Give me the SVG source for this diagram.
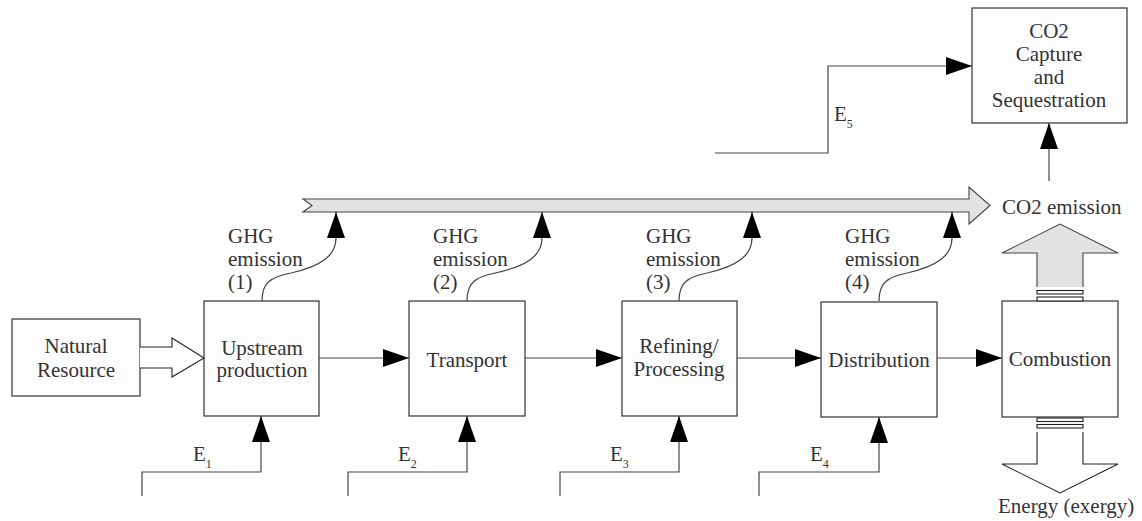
<svg xmlns="http://www.w3.org/2000/svg" width="1142" height="521" viewBox="0 0 1142 521">
  <style>
    .box { fill: #fdfdfd; stroke: #333; stroke-width: 1.2; }
    .lbl { font-family: "Liberation Serif", "Times New Roman", serif; font-size: 21px; fill: #333; }
    .mid { text-anchor: middle; }
    .sub { font-family: "Liberation Serif", "Times New Roman", serif; font-size: 12px; fill: #333; }
    .line { fill: none; stroke: #444; stroke-width: 1.2; }
    .flow { fill: #e2e2e2; stroke: #444; stroke-width: 1.1; }
    .hollow { fill: #fff; stroke: #222; stroke-width: 1.1; }
  </style>
  <defs>
    <marker id="head" markerUnits="userSpaceOnUse" markerWidth="27" markerHeight="19" refX="26" refY="9" orient="auto">
      <path d="M0,0 L26,9 L0,18 Z" fill="#000"/>
    </marker>
  </defs>
  <rect width="1142" height="521" fill="#fff"/>

  <!-- collected emission stream -->
  <g id="emission-stream">
    <path class="flow" d="M303,199 H969 V187 L990,205.5 L969,224 V212 H303 L312,205.5 Z"/>
    <text class="lbl" x="1002" y="214">CO2 emission</text>
  </g>

  <!-- nodes -->
  <g id="natural-resource">
    <rect class="box" x="12" y="319" width="128" height="77"/>
    <text class="lbl mid" x="76" y="353">Natural</text>
    <text class="lbl mid" x="76" y="377">Resource</text>
  </g>
  <g id="upstream">
    <rect class="box" x="204" y="301" width="115" height="115"/>
    <text class="lbl mid" x="262" y="355">Upstream</text>
    <text class="lbl mid" x="262" y="377">production</text>
  </g>
  <g id="transport">
    <rect class="box" x="409" y="301" width="116" height="115"/>
    <text class="lbl mid" x="467" y="367">Transport</text>
  </g>
  <g id="refining">
    <rect class="box" x="622" y="301" width="115" height="115"/>
    <text class="lbl mid" x="679" y="353">Refining/</text>
    <text class="lbl mid" x="679" y="376">Processing</text>
  </g>
  <g id="distribution">
    <rect class="box" x="821" y="302" width="116" height="115"/>
    <text class="lbl mid" x="879" y="367">Distribution</text>
  </g>
  <g id="combustion">
    <rect class="box" x="1002" y="301" width="116" height="116"/>
    <text class="lbl mid" x="1060" y="366">Combustion</text>
  </g>
  <g id="ccs">
    <rect class="box" x="972" y="8" width="155" height="115"/>
    <text class="lbl mid" x="1049" y="38">CO2</text>
    <text class="lbl mid" x="1049" y="61">Capture</text>
    <text class="lbl mid" x="1049" y="84">and</text>
    <text class="lbl mid" x="1049" y="107">Sequestration</text>
  </g>

  <!-- combustion outputs -->
  <g id="combustion-out">
    <path class="flow" d="M1037,287 V253 H1002 L1060,224 L1118,253 H1083 V287"/>
    <rect class="hollow" x="1037" y="290.5" width="46" height="3.5"/>
    <rect class="hollow" x="1037" y="297" width="46" height="4"/>
    <rect class="hollow" x="1037" y="418" width="46" height="3.5"/>
    <rect class="hollow" x="1037" y="424.5" width="46" height="3.5"/>
    <path class="hollow" d="M1037,432 V464 H1002 L1060,493 L1118,464 H1083 V432"/>
    <text class="lbl" x="998" y="513">Energy (exergy)</text>
  </g>

  <!-- connectors -->
  <g id="connectors">
    <path class="hollow" d="M140,347 H172 V338 L204,358 L172,377 V368 H140"/>

    <path class="line" d="M319,358 H409" marker-end="url(#head)"/>
    <path class="line" d="M525,358 H622" marker-end="url(#head)"/>
    <path class="line" d="M737,358 H821" marker-end="url(#head)"/>
    <path class="line" d="M937,358 H1002" marker-end="url(#head)"/>

    <path class="line" d="M142,496 V472 H261 V416" marker-end="url(#head)"/>
    <path class="line" d="M348,496 V472 H467 V416" marker-end="url(#head)"/>
    <path class="line" d="M560,496 V472 H679 V416" marker-end="url(#head)"/>
    <path class="line" d="M759,496 V472 H879 V417" marker-end="url(#head)"/>

    <path class="line" stroke="#111" d="M262,301 C262,283 270,277 291,273 C322,266 336,255 336,238 V212" marker-end="url(#head)"/>
    <path class="line" stroke="#111" d="M467,301 C467,283 475,277 495,273 C528,266 542,255 542,238 V212" marker-end="url(#head)"/>
    <path class="line" stroke="#111" d="M679,301 C679,283 687,277 707,273 C738,266 752,255 752,238 V212" marker-end="url(#head)"/>
    <path class="line" stroke="#111" d="M879,301 C879,283 887,277 907,273 C938,266 952,255 952,238 V212" marker-end="url(#head)"/>

    <path class="line" d="M715,153 H828 V66 H972" marker-end="url(#head)"/>
    <path class="line" d="M1049,181 V123" marker-end="url(#head)"/>
  </g>

  <!-- connector labels -->
  <g id="labels">
    <text class="lbl" x="228" y="243">GHG</text>
    <text class="lbl" x="228" y="266">emission</text>
    <text class="lbl" x="228" y="289">(1)</text>
    <text class="lbl" x="433" y="243">GHG</text>
    <text class="lbl" x="433" y="266">emission</text>
    <text class="lbl" x="433" y="289">(2)</text>
    <text class="lbl" x="646" y="243">GHG</text>
    <text class="lbl" x="646" y="266">emission</text>
    <text class="lbl" x="646" y="289">(3)</text>
    <text class="lbl" x="845" y="243">GHG</text>
    <text class="lbl" x="845" y="266">emission</text>
    <text class="lbl" x="845" y="289">(4)</text>

    <text class="lbl" x="193" y="461">E<tspan class="sub" dy="7">1</tspan></text>
    <text class="lbl" x="398" y="461">E<tspan class="sub" dy="7">2</tspan></text>
    <text class="lbl" x="610" y="461">E<tspan class="sub" dy="7">3</tspan></text>
    <text class="lbl" x="810" y="461">E<tspan class="sub" dy="7">4</tspan></text>
    <text class="lbl" x="834" y="121">E<tspan class="sub" dy="7">5</tspan></text>
  </g>
</svg>
